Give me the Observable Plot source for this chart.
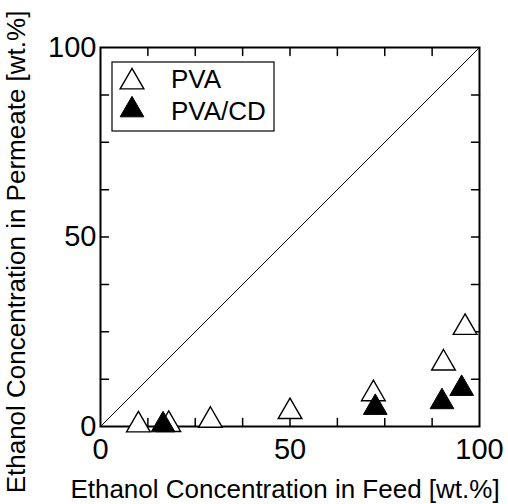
<!DOCTYPE html>
<html>
<head>
<meta charset="utf-8">
<script src="https://cdn.jsdelivr.net/npm/d3@7"></script>
<script src="https://cdn.jsdelivr.net/npm/@observablehq/plot@0.6"></script>
<style>
  html, body { margin: 0; padding: 0; background: #fff; }
  #chart svg { display: block; }
</style>
</head>
<body>
<div id="chart"></div>
<script>
// ---- data ----
const pvaFeed = [10, 18, 29, 50, 72, 90.5, 96.2];
const pvaPerm = [0.4, 0.5, 1.6, 3.9, 8.6, 16.7, 26.1];
const cdFeed = [16.5, 72.5, 90.1, 95.3];
const cdPerm = [0.4, 5.0, 6.5, 10.0];
const diagonal = [0, 100];
const majorTicks = [0, 50, 100];
const minorTicks = [12.5, 25, 37.5, 50, 62.5, 75, 87.5];
const seriesNames = ["PVA", "PVA/CD"];
const xTitle = "Ethanol Concentration in Feed [wt.%]";
const yTitle = "Ethanol Concentration in Permeate [wt.%]";

const pva = pvaFeed.map((x, i) => ({x, y: pvaPerm[i]}));
const cd = cdFeed.map((x, i) => ({x, y: cdPerm[i]}));

const FONT = "'Liberation Sans', Arial, Helvetica, sans-serif";
const W = 508, H = 504;
const mL = 100, mR = 29, mT = 47, mB = 78;

const tickShape = {draw(context, l) { context.moveTo(0, 0); context.lineTo(0, -l); }};
const inwardX = (anchor) => Plot.vector(minorTicks, {
  x: d => d, frameAnchor: anchor, length: 8, rotate: anchor === "bottom" ? 0 : 180,
  anchor: "start", shape: tickShape, stroke: "black", strokeWidth: 1.5
});
const inwardY = (anchor) => Plot.vector(minorTicks, {
  y: d => d, frameAnchor: anchor, length: 8, rotate: anchor === "left" ? 90 : -90,
  anchor: "start", shape: tickShape, stroke: "black", strokeWidth: 1.5
});

const chart = Plot.plot({
  width: W,
  height: H,
  marginLeft: mL,
  marginRight: mR,
  marginTop: mT,
  marginBottom: mB,
  style: {fontFamily: FONT, background: "white", color: "black", overflow: "visible"},
  x: {domain: [0, 100]},
  y: {domain: [0, 100]},
  marks: [
    Plot.line(diagonal, {x: d => d, y: d => d, stroke: "black", strokeWidth: 1}),
    inwardX("bottom"),
    inwardX("top"),
    inwardY("left"),
    inwardY("right"),
    Plot.axisX({anchor: "bottom", ticks: majorTicks, tickSize: 0, tickPadding: 12, fontSize: 29, label: null}),
    Plot.axisY({anchor: "left", ticks: majorTicks, tickSize: 0, tickPadding: 4, fontSize: 29, label: null}),
    Plot.frame({stroke: "black", strokeWidth: 2}),
    Plot.dot(pva, {x: "x", y: "y", symbol: "triangle", r: 8.8, fill: "white", stroke: "black", strokeWidth: 1.4}),
    Plot.dot(cd, {x: "x", y: "y", symbol: "triangle", r: 8.8, fill: "black", stroke: "black", strokeWidth: 1})
  ]
});

document.getElementById("chart").appendChild(chart);

// titles and legend
const svg = d3.select(chart);
svg.append("text")
  .attr("x", 285).attr("y", 498)
  .attr("text-anchor", "middle")
  .attr("font-family", FONT).attr("font-size", 26)
  .attr("fill", "black")
  .text(xTitle);
svg.append("text")
  .attr("transform", "translate(25,252) rotate(-90)")
  .attr("text-anchor", "middle")
  .attr("font-family", FONT).attr("font-size", 26)
  .attr("fill", "black")
  .text(yTitle);

const lg = svg.append("g");
lg.append("rect").attr("x", 112).attr("y", 62).attr("width", 162).attr("height", 69)
  .attr("fill", "white").attr("stroke", "black").attr("stroke-width", 1.2);
const tri = d3.symbol(d3.symbolTriangle, Math.PI * 8.8 * 8.8);
seriesNames.forEach((name, i) => {
  const cy = 82 + i * 28;
  lg.append("path").attr("d", tri()).attr("transform", `translate(132,${cy})`)
    .attr("fill", i === 0 ? "white" : "black").attr("stroke", "black").attr("stroke-width", i === 0 ? 1.4 : 1);
  lg.append("text").attr("x", 171).attr("y", 88 + i * 32)
    .attr("text-anchor", "start")
    .attr("font-family", FONT).attr("font-size", 26).attr("fill", "black").text(name);
});
</script>
</body>
</html>
